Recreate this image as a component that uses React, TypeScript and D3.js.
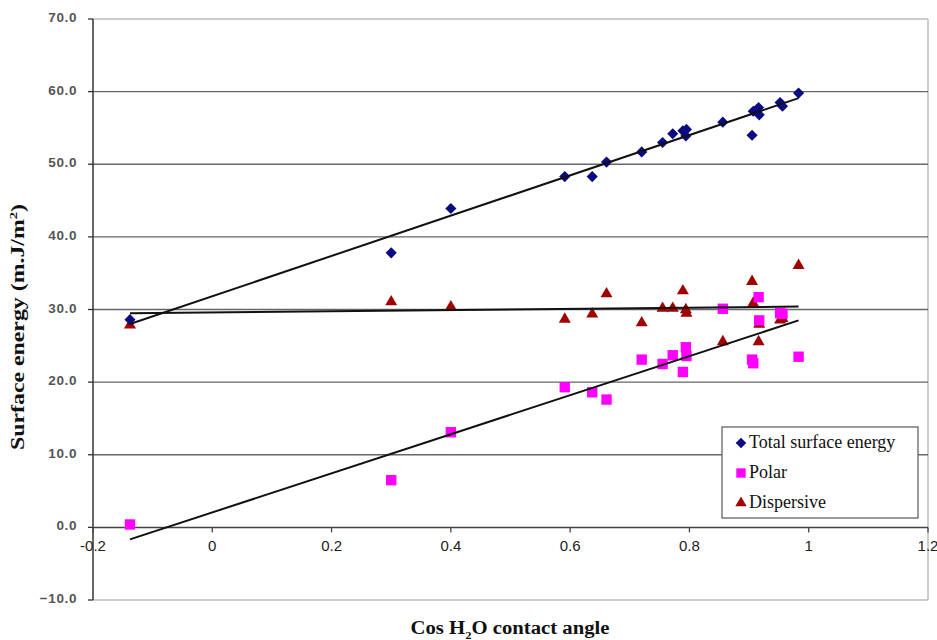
import React from "react";
import * as d3 from "d3";

// cos(H2O contact angle) for each sample
const cosTheta = [
  -0.138, 0.3, 0.4, 0.591, 0.637, 0.661, 0.72, 0.755, 0.772, 0.789, 0.794, 0.795,
  0.856, 0.905, 0.907, 0.916, 0.917, 0.952, 0.956, 0.983,
];
const totalEnergy = [
  28.6, 37.8, 43.9, 48.3, 48.3, 50.3, 51.7, 53.0, 54.2, 54.6, 53.9, 54.8,
  55.8, 54.0, 57.3, 57.8, 56.8, 58.5, 58.0, 59.8,
];
const polarEnergy = [
  0.4, 6.5, 13.1, 19.3, 18.6, 17.6, 23.1, 22.5, 23.7, 21.4, 24.8, 23.6,
  30.1, 23.1, 22.6, 31.7, 28.5, 29.5, 29.4, 23.5,
];
const dispersiveEnergy = [
  28.0, 31.2, 30.5, 28.8, 29.5, 32.3, 28.3, 30.3, 30.3, 32.7, 30.1, 29.6,
  25.7, 34.0, 31.0, 25.7, 28.1, 28.7, 28.9, 36.2,
];

// fitted trend lines (start / end)
const trendX = [-0.138, 0.983];
const totalTrend = [28.0, 59.1];
const polarTrend = [-1.65, 28.5];
const dispersiveTrend = [29.5, 30.4];

const xTicks = [-0.2, 0, 0.2, 0.4, 0.6, 0.8, 1, 1.2];
const yTicks = [-10, 0, 10, 20, 30, 40, 50, 60, 70];
const legendLabels = ["Total surface energy", "Polar", "Dispersive"];

const W = 937;
const H = 640;
const left = 93, right = 928, top = 19, bottom = 600;

export default function App() {
  const x = d3.scaleLinear().domain([-0.2, 1.2]).range([left, right]);
  const y = d3.scaleLinear().domain([-10, 70]).range([bottom, top]);

  // diamond = square turned 45deg (excel style)
  const diamond = d3.symbol().type(d3.symbolSquare).size(62)();
  const square = d3.symbol().type(d3.symbolSquare).size(108)();
  const triangle = d3.symbol().type(d3.symbolTriangle).size(62)();

  const line = d3.line<[number, number]>().x(d => x(d[0])).y(d => y(d[1]));
  const trend = (vals: number[]) => line(trendX.map((t, i) => [t, vals[i]] as [number, number])) || "";

  const navy = "#0a0a82";
  const magenta = "#ff00ff";
  const darkRed = "#a00000";

  const legendX = 722, legendY = 427;
  const serif = "Liberation Serif, Times New Roman, serif";

  return (
    <svg width={W} height={H} style={{ position: "absolute", left: 0, top: 0, background: "#fff" }}>
      {/* frame */}
      <line x1={left} x2={right} y1={top} y2={top} stroke="#bbb" strokeWidth={1.5} />
      <line x1={right} x2={right} y1={top} y2={bottom} stroke="#bbb" strokeWidth={1.5} />
      <line x1={left} x2={right} y1={bottom} y2={bottom} stroke="#bbb" strokeWidth={1.5} />

      {/* gridlines */}
      {yTicks.filter(t => t !== -10 && t !== 70 && t !== 0).map(t => (
        <line key={t} x1={left} x2={right} y1={y(t)} y2={y(t)} stroke="#666" strokeWidth={1.3} />
      ))}

      {/* y axis */}
      <line x1={left} x2={left} y1={top} y2={bottom} stroke="#333" strokeWidth={1.5} />
      {yTicks.map(t => (
        <g key={t}>
          <line x1={left - 5} x2={left} y1={y(t)} y2={y(t)} stroke="#333" strokeWidth={1.3} />
          <text x={77} y={y(t) + 3} textAnchor="end" fontFamily="Liberation Sans, Arial, sans-serif"
            fontSize={13.5} fontWeight="bold" fill="#555" letterSpacing={0.6}>{d3.format(".1f")(t)}</text>
        </g>
      ))}

      {/* x axis at y = 0 */}
      <line x1={left} x2={right} y1={y(0)} y2={y(0)} stroke="#444" strokeWidth={1.5} />
      {xTicks.map(t => (
        <g key={t}>
          <line x1={x(t)} x2={x(t)} y1={y(0)} y2={y(0) + 5} stroke="#444" strokeWidth={1.3} />
          <text x={x(t)} y={y(0) + 24} textAnchor="middle"
            fontFamily="Liberation Sans Narrow, Arial Narrow, sans-serif" fontSize={15} fill="#222">
            {String(t)}
          </text>
        </g>
      ))}

      {/* series */}
      {cosTheta.map((c, i) => (
        <path key={"d" + i} d={triangle} transform={`translate(${x(c)},${y(dispersiveEnergy[i]) + 1})`} fill={darkRed} />
      ))}
      {cosTheta.map((c, i) => (
        <path key={"p" + i} d={square} transform={`translate(${x(c)},${y(polarEnergy[i])})`} fill={magenta} />
      ))}
      {cosTheta.map((c, i) => (
        <path key={"t" + i} d={diamond} transform={`translate(${x(c)},${y(totalEnergy[i])}) rotate(45)`} fill={navy} />
      ))}

      {/* trend lines */}
      <path d={trend(totalTrend)} stroke="#111" strokeWidth={2} fill="none" />
      <path d={trend(dispersiveTrend)} stroke="#111" strokeWidth={2} fill="none" />
      <path d={trend(polarTrend)} stroke="#111" strokeWidth={2} fill="none" />

      {/* legend */}
      <rect x={legendX} y={legendY} width={196} height={91} fill="#fff" stroke="#666" strokeWidth={1.3} />
      {legendLabels.map((label, i) => {
        const cy = [443, 473, 503][i];
        const sym = [diamond, square, triangle][i];
        const col = [navy, magenta, darkRed][i];
        const rot = i === 0 ? " rotate(45)" : "";
        return (
          <g key={label}>
            <path d={sym} transform={`translate(${legendX + 19},${cy}) scale(${i === 1 ? 0.9 : 0.95})${rot}`} fill={col} />
            <text x={legendX + 27} y={cy + 5} fontFamily={serif} fontSize={18} fill="#111">
              {label}
            </text>
          </g>
        );
      })}

      {/* axis titles */}
      <text transform={`translate(24,327) rotate(-90)`} textAnchor="middle"
        fontFamily={serif} fontWeight="bold" fontSize={18} fill="#111"
        textLength={246} lengthAdjust="spacingAndGlyphs">
        Surface energy (m.J/m<tspan dy={-7} fontSize={11}>2</tspan><tspan dy={7}>)</tspan>
      </text>
      <text x={510} y={634} textAnchor="middle"
        fontFamily={serif} fontWeight="bold" fontSize={18} fill="#111"
        textLength={199} lengthAdjust="spacingAndGlyphs">
        Cos H<tspan dy={5} fontSize={11}>2</tspan><tspan dy={-5}>O contact angle</tspan>
      </text>
    </svg>
  );
}
